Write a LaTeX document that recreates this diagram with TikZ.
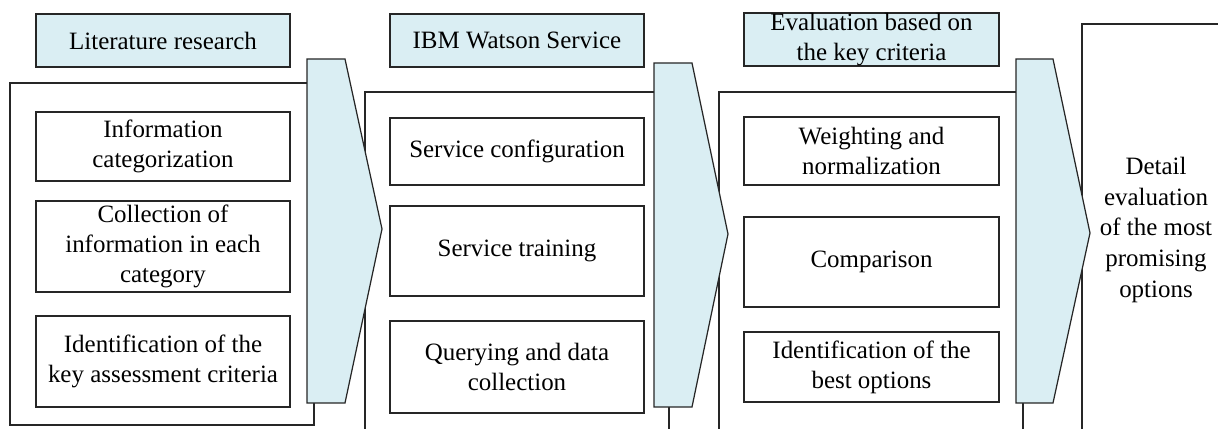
\documentclass[tikz,border=0pt]{standalone}
\usepackage{fontspec}
\setmainfont{Liberation Serif}
\definecolor{paleblue}{HTML}{DAEEF3}
\begin{document}
\begin{tikzpicture}[x=0.02cm,y=-0.02cm,
    titlebox/.style={draw=black!85,line width=0.7pt,fill=paleblue,inner sep=0pt,
      minimum width=5.08cm,minimum height=1.06cm,align=center,
      font=\fontsize{14.2}{17}\selectfont},
    itembox/.style={draw=black!85,line width=0.7pt,fill=white,inner sep=0pt,
      minimum width=5.08cm,align=center,font=\fontsize{14.2}{17}\selectfont},
    chevron/.style={draw=black!85,line width=0.7pt,fill=paleblue},
    frame/.style={draw=black!85,line width=0.7pt}]
    \useasboundingbox (0,0) rectangle (1218,429);

    % Frames
    \draw[frame] (10,83) rectangle (314,425);
    \draw[frame] (365,432) -- (365,92) -- (669,92) -- (669,432);
    \draw[frame] (719,432) -- (719,92) -- (1023,92) -- (1023,432);
    \draw[frame] (1082,432) -- (1082,24) -- (1221,24);

    % Literature research
    \node[titlebox] (lit) at (163,40.5) {Literature research};
    \node[itembox,minimum height=1.38cm] (info) at (163,146.5) {Information\\categorization};
    \node[itembox,minimum height=1.82cm] (collect) at (163,246.5) {Collection of\\information in each\\category};
    \node[itembox,minimum height=1.82cm] (ident) at (163,361.5) {Identification of the\\key assessment criteria};

    % IBM Watson Service
    \node[titlebox] (ibm) at (517,40.5) {IBM Watson Service};
    \node[itembox,minimum height=1.34cm] (config) at (517,151.5) {Service configuration};
    \node[itembox,minimum height=1.8cm] (train) at (517,251) {Service training};
    \node[itembox,minimum height=1.84cm] (query) at (517,367) {Querying and data\\collection};

    % Evaluation based on the key criteria
    \node[titlebox,minimum width=5.1cm] (eval) at (871.5,39.5) {Evaluation based on\\the key criteria};
    \node[itembox,minimum width=5.1cm,minimum height=1.36cm] (weight) at (871.5,151) {Weighting and\\normalization};
    \node[itembox,minimum width=5.1cm,minimum height=1.8cm] (compare) at (871.5,262) {Comparison};
    \node[itembox,minimum width=5.1cm,minimum height=1.4cm] (best) at (871.5,367) {Identification of the\\best options};

    % Detail evaluation
    \node[align=center,font=\fontsize{14.2}{17.6}\selectfont] (detail) at (1156,230)
      {Detail\\evaluation\\of the most\\promising\\options};

    % Chevrons
    \draw[chevron] (307,59) -- (345,59) -- (382,229) -- (345,403) -- (307,403) -- cycle;
    \draw[chevron] (654,63) -- (692,63) -- (728,234) -- (692,407) -- (654,407) -- cycle;
    \draw[chevron] (1016,59) -- (1053,59) -- (1090,233) -- (1053,403) -- (1016,403) -- cycle;
  \end{tikzpicture}
\end{document}
